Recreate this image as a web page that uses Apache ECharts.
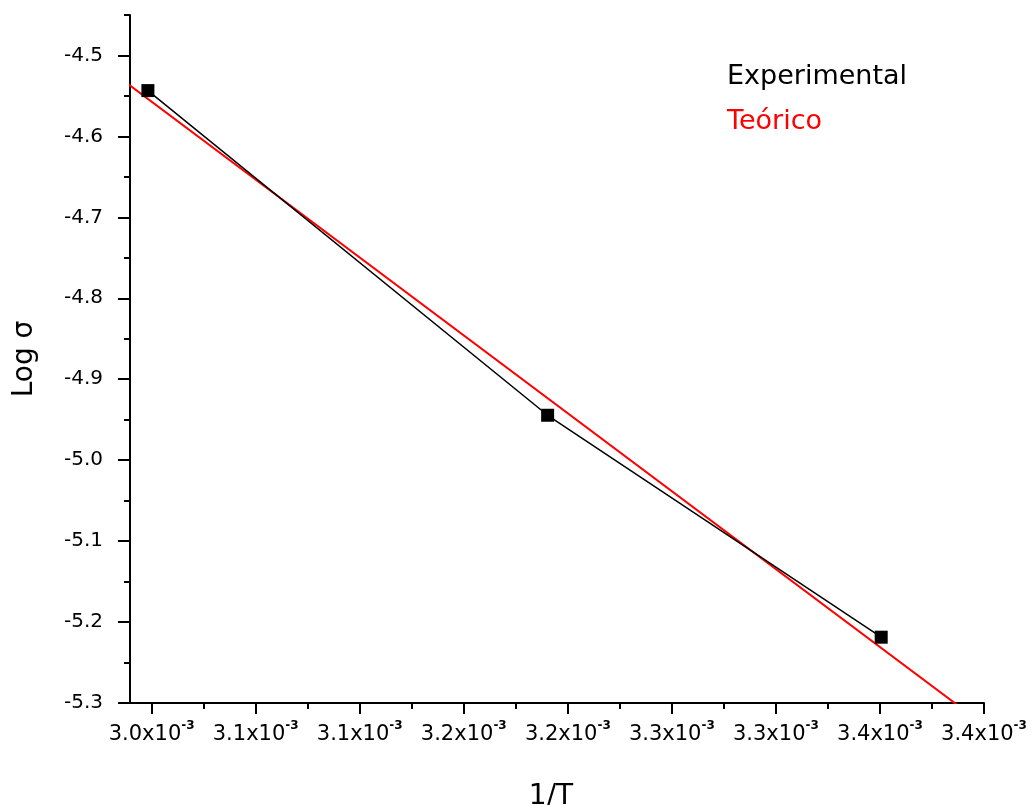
<!DOCTYPE html>
<html><head><meta charset="utf-8">
<script src="https://cdn.jsdelivr.net/npm/echarts@6/dist/echarts.min.js"></script>
<style>html,body{margin:0;padding:0;background:#fff}#c{width:1034px;height:805px}</style>
</head><body><div id="c"></div>
<script>
// Data (x in units of 1e-3 K^-1)
const expX = [2.9982, 3.1903, 3.3506];
const expY = [-4.5434, -4.9445, -5.2187];
const teoX = [2.98, 3.40];
const teoY = [-4.5187, -5.3271];

const xTicks = [3.00, 3.05, 3.10, 3.15, 3.20, 3.25, 3.30, 3.35, 3.40];
const xTickLabels = ['3.0', '3.1', '3.1', '3.2', '3.2', '3.3', '3.3', '3.4', '3.4'];
const xMinorTicks = [3.025, 3.075, 3.125, 3.175, 3.225, 3.275, 3.325, 3.375];
const yTicks = [-5.3, -5.2, -5.1, -5.0, -4.9, -4.8, -4.7, -4.6, -4.5];
const yTickLabels = ['-5.3', '-5.2', '-5.1', '-5.0', '-4.9', '-4.8', '-4.7', '-4.6', '-4.5'];
const yMinorTicks = [-5.25, -5.15, -5.05, -4.95, -4.85, -4.75, -4.65, -4.55, -4.45];

const X_MIN = 2.9896, X_MAX = 3.40, Y_MIN = -5.3, Y_MAX = -4.45;
const FONT = 'DejaVu Sans';

function lookup(vals, labels, v) {
  for (let i = 0; i < vals.length; i++) if (Math.abs(vals[i] - v) < 1e-6) return labels[i];
  return '';
}

const chart = echarts.init(document.getElementById('c'));
chart.setOption({
  animation: false,
  backgroundColor: '#fff',
  grid: { left: 130, right: 50, top: 15, bottom: 102, containLabel: false, outerBoundsMode: 'none' },
  legend: {
    orient: 'vertical', left: 717, top: 57, itemGap: 16,
    itemWidth: 0, itemHeight: 30, icon: 'none', selectedMode: false,
    data: [
      { name: 'Experimental', textStyle: { color: '#000' } },
      { name: 'Teórico', textStyle: { color: '#ff0000' } }
    ],
    textStyle: { fontFamily: FONT, fontSize: 27 }
  },
  xAxis: [
    {
      type: 'value', min: X_MIN, max: X_MAX, position: 'bottom',
      splitLine: { show: false },
      axisLine: { show: true, onZero: false, lineStyle: { color: '#000', width: 2 } },
      axisTick: { show: true, customValues: xTicks, length: 11, lineStyle: { color: '#000', width: 2 } },
      axisLabel: {
        show: true, customValues: xTicks, margin: 17, color: '#000', hideOverlap: false,
        formatter: v => '{a|' + lookup(xTicks, xTickLabels, v) + 'x10}{b|-3}',
        rich: {
          a: { fontFamily: FONT, fontSize: 21, lineHeight: 30, color: '#000' },
          b: { fontFamily: FONT, fontSize: 12, fontWeight: 'bold', lineHeight: 12, verticalAlign: 'top', color: '#000' }
        }
      },
      name: '1/T', nameLocation: 'middle', nameGap: 80,
      nameTextStyle: { fontFamily: FONT, fontSize: 28, color: '#000', padding: [0, 12, 0, 0] }
    },
    {
      type: 'value', min: X_MIN, max: X_MAX, position: 'bottom',
      splitLine: { show: false },
      axisLine: { show: false, onZero: false },
      axisTick: { show: true, customValues: xMinorTicks, length: 6, lineStyle: { color: '#000', width: 2 } },
      axisLabel: { show: false }
    }
  ],
  yAxis: [
    {
      type: 'value', min: Y_MIN, max: Y_MAX, position: 'left',
      splitLine: { show: false },
      axisLine: { show: true, onZero: false, lineStyle: { color: '#000', width: 2 } },
      axisTick: { show: true, customValues: yTicks, length: 12, lineStyle: { color: '#000', width: 2 } },
      axisLabel: {
        show: true, customValues: yTicks, margin: 27, color: '#000',
        fontFamily: FONT, fontSize: 20,
        formatter: v => lookup(yTicks, yTickLabels, v)
      },
      name: 'Log σ', nameLocation: 'middle', nameGap: 91, nameRotate: 90,
      nameTextStyle: { fontFamily: FONT, fontSize: 28, color: '#000' }
    },
    {
      type: 'value', min: Y_MIN, max: Y_MAX, position: 'left',
      splitLine: { show: false },
      axisLine: { show: false, onZero: false },
      axisTick: { show: true, customValues: yMinorTicks, length: 6, lineStyle: { color: '#000', width: 2 } },
      axisLabel: { show: false }
    }
  ],
  series: [
    {
      name: 'Teórico', type: 'line', xAxisIndex: 0, yAxisIndex: 0,
      data: teoX.map((x, i) => [x, teoY[i]]),
      showSymbol: false, symbol: 'none', clip: true,
      lineStyle: { color: '#ff0000', width: 2 }, itemStyle: { color: '#ff0000' },
      z: 2
    },
    {
      name: 'Experimental', type: 'line', xAxisIndex: 0, yAxisIndex: 0,
      data: expX.map((x, i) => [x, expY[i]]),
      symbol: 'rect', symbolSize: 13,
      lineStyle: { color: '#000', width: 1.5 }, itemStyle: { color: '#000' },
      z: 3
    }
  ]
});
</script>
</body></html>
